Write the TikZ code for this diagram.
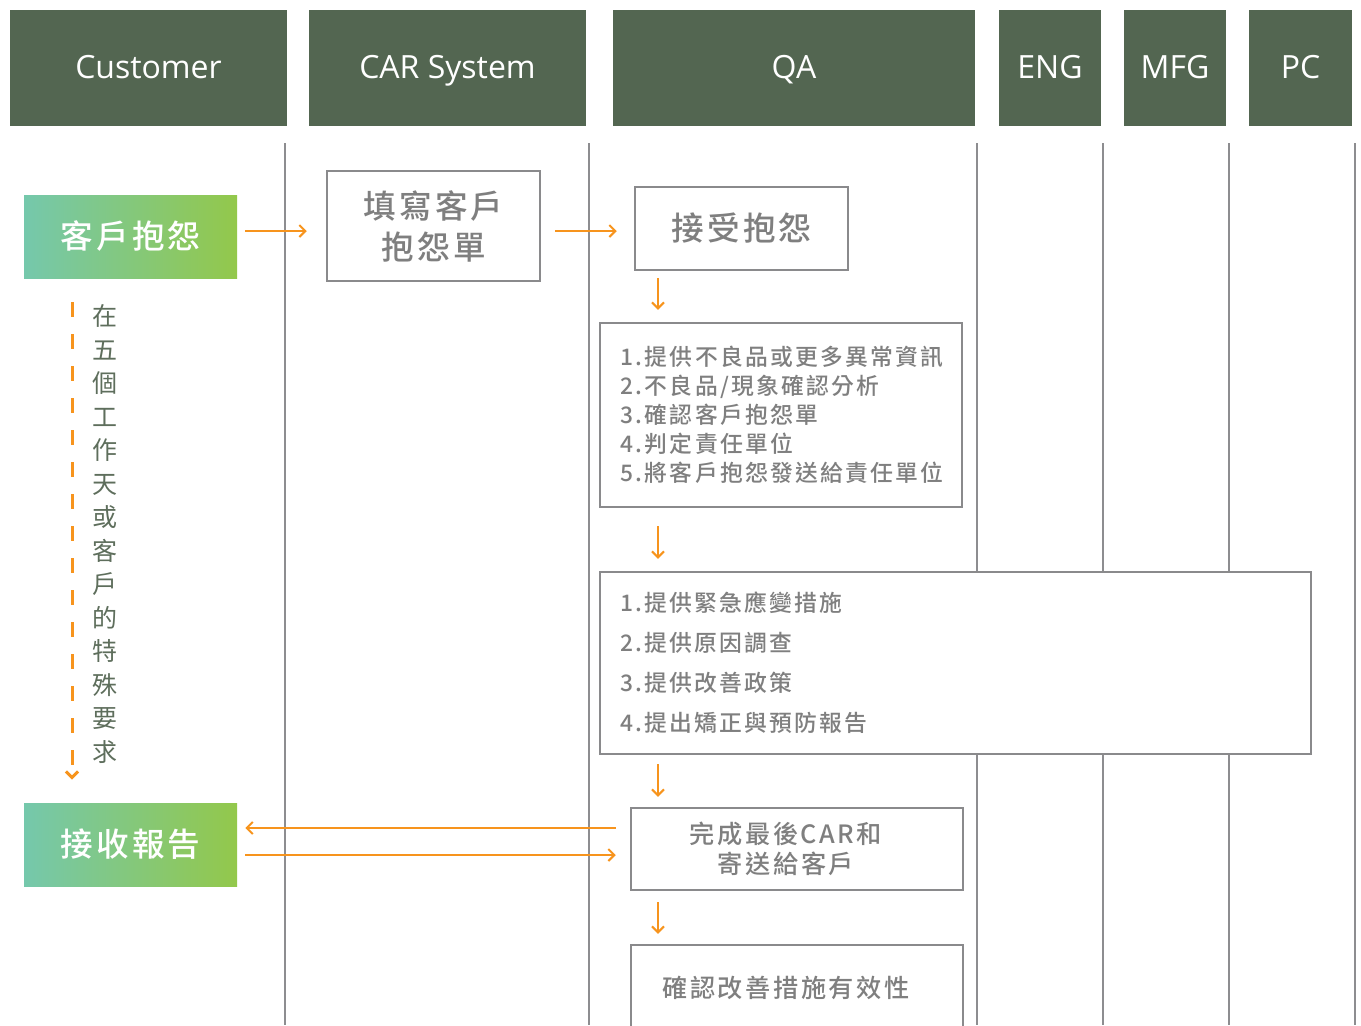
\documentclass[tikz,border=0pt]{standalone}
\usepackage{fontspec}
\setmainfont{Open Sans}
\newfontfamily\cjk[LetterSpace=10]{Noto Sans CJK TC}
\newfontfamily\cjkmid[LetterSpace=10]{Noto Sans CJK TC Medium}
\usetikzlibrary{arrows.meta,calc}

\definecolor{lanegreen}{HTML}{536651}
\definecolor{linegray}{HTML}{8D8D90}
\definecolor{boxgray}{HTML}{8A8A8C}
\definecolor{textgray}{HTML}{7F7F7F}
\definecolor{notegreen}{HTML}{5E6E5C}
\definecolor{tealgreen}{HTML}{75C8AC}
\definecolor{limegreen}{HTML}{93C84B}
\definecolor{floworange}{HTML}{F7941D}

\tikzset{
  lane/.style={fill=lanegreen, text=white, minimum height=58pt, inner sep=0pt,
    text height=12.5pt, text depth=2.5pt, font=\fontsize{16}{19}\selectfont},
  sep/.style={draw=linegray, line width=1.25pt},
  task/.style={draw=boxgray, line width=1.25pt, fill=white, text=textgray, inner sep=0pt},
  title/.style={task, font=\cjkmid\fontsize{16.3}{20.5}\selectfont, align=center},
  start/.style={left color=tealgreen, right color=limegreen, text=white, inner sep=0pt,
    minimum width=106.5pt, minimum height=41.5pt,
    font=\cjkmid\fontsize{16.3}{20}\selectfont},
  flow/.style={draw=floworange, line width=1pt, -{Straight Barb[length=3pt,width=6pt]}},
}

\begin{document}
\begin{tikzpicture}[x=0.5pt, y=-0.5pt]
    \useasboundingbox (0,0) rectangle (1361,1025);

    % lane headers
    \node (cust) [lane, minimum width=138.5pt] at (148.5,68) {Customer};
    \node (car)  [lane, minimum width=138.5pt] at (447.5,68) {CAR System};
    \node (qa)   [lane, minimum width=181pt]   at (794,68)   {QA};
    \node (eng)  [lane, minimum width=51pt]    at (1050,68)  {ENG};
    \node (mfg)  [lane, minimum width=51pt]    at (1175,68)  {MFG};
    \node (pc)   [lane, minimum width=51.5pt]  at (1300.5,68) {PC};

    % lane separators
    \foreach \x in {285,589,977,1103,1229,1355}
        \draw[sep] (\x,143) -- (\x,1025);

    % customer side
    \node (complaint) [start] at (130.5,236.5) {客戶抱怨};
    \node (receive)   [start] at (130.5,844.5) {接收報告};
    \node (note) [text=notegreen, align=center, font=\cjk\fontsize{12.5}{16.75}\selectfont]
        at (105,534) {在\\五\\個\\工\\作\\天\\或\\客\\戶\\的\\特\\殊\\要\\求};

    % CAR system and QA steps
    \node (fillform) [title, minimum width=106.5pt, minimum height=55pt] at (433.5,226) {填寫客戶\\抱怨單};
    \node (accept)   [title, minimum width=106.5pt, minimum height=41.5pt] at (741.5,228.5) {接受抱怨};
    \node (list1) [task, minimum width=181pt, minimum height=92pt, inner xsep=10pt,
        text width=160.5pt, align=left, font=\cjkmid\fontsize{11.4}{14.5}\selectfont] at (781,415)
        {1.提供不良品或更多異常資訊\\2.不良品/現象確認分析\\3.確認客戶抱怨單\\4.判定責任單位\\5.將客戶抱怨發送給責任單位};
    \node (list2) [task, minimum width=355.5pt, minimum height=91pt, inner xsep=10pt,
        text width=335.5pt, align=left, font=\cjkmid\fontsize{11.4}{20}\selectfont] at (955.5,663)
        {1.提供緊急應變措施\\2.提供原因調查\\3.提供改善政策\\4.提出矯正與預防報告};
    \node (final) [task, minimum width=166pt, minimum height=41pt, align=center,
        font=\cjkmid\fontsize{12.6}{15}\selectfont] at (797,849)
        {完成最後CAR和\hspace*{11pt}\\寄送給客戶\hspace*{11pt}};
    \node (verify) [task, minimum width=166pt, minimum height=42.5pt,
        font=\cjkmid\fontsize{12.6}{15}\selectfont] at (797,987.5) {確認改善措施有效性\hspace*{11pt}};

    \coordinate (drop) at (658,0);
    \coordinate (wait) at (72,0);

    % flow
    \draw[flow, shorten <=4pt, shorten >=9.5pt] ([yshift=2.75pt]complaint.east) -- ([yshift=2.75pt]complaint.east -| fillform.west);
    \draw[flow, shorten <=7pt, shorten >=8.5pt] ([yshift=-2.5pt]fillform.east) -- ([yshift=-2.5pt]fillform.east -| accept.west);
    \draw[flow, shorten <=3.5pt, shorten >=6pt] (accept.south -| drop) -- (list1.north -| drop);
    \draw[flow, shorten <=9pt, shorten >=6pt] (list1.south -| drop) -- (list2.north -| drop);
    \draw[flow, shorten <=4.5pt, shorten >=5pt] (list2.south -| drop) -- (final.north -| drop);
    \draw[flow, shorten <=5.5pt, shorten >=5pt] (final.south -| drop) -- (verify.north -| drop);
    \draw[flow, shorten <=7pt, shorten >=4pt] ([yshift=10.5pt]final.west) -- ([yshift=10.5pt]final.west -| receive.east);
    \draw[flow, shorten <=4pt, shorten >=7pt] ([yshift=-3pt]final.west -| receive.east) -- ([yshift=-3pt]final.west);
    \draw[flow, line width=1.5pt, dash pattern=on 7.5pt off 8.5pt, shorten <=12pt, shorten >=11.5pt]
        (complaint.south -| wait) -- (receive.north -| wait);
\end{tikzpicture}
\end{document}
